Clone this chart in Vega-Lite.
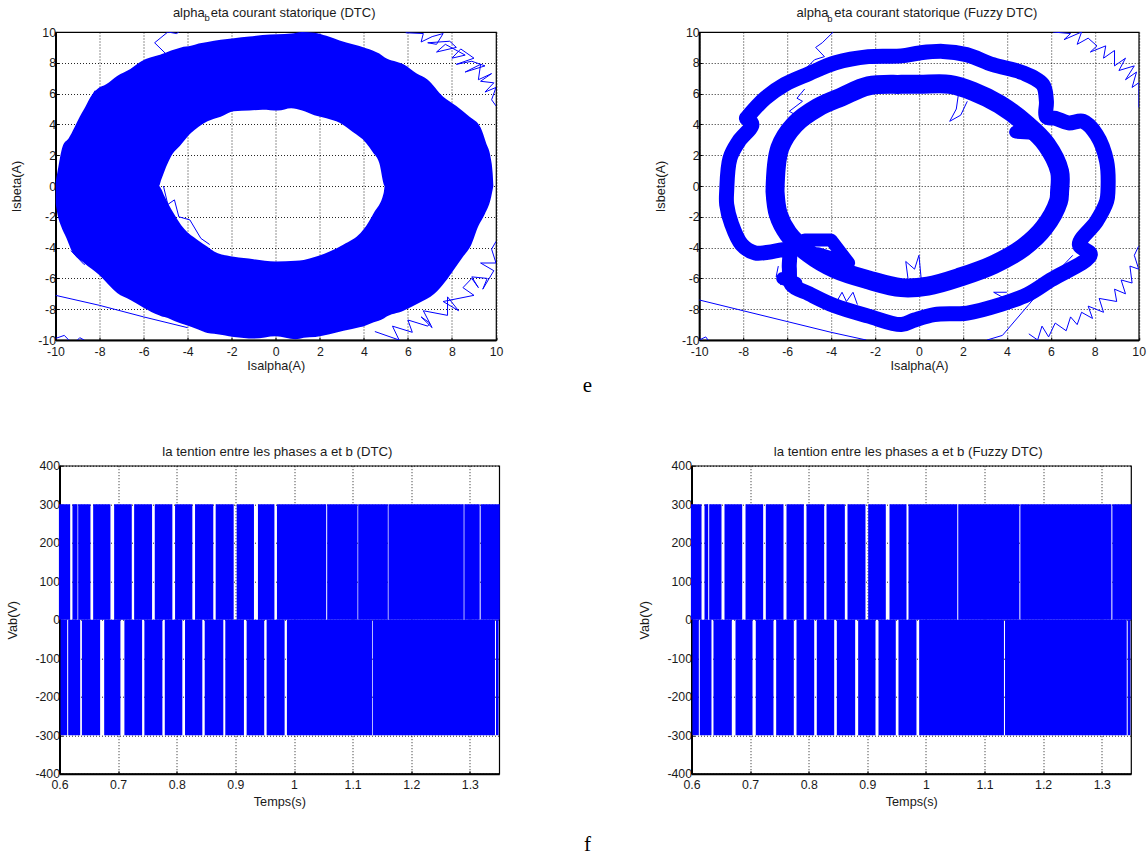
{
"$schema":"https://vega.github.io/schema/vega-lite/v6.json",
"background":"white",
"padding":{"left":5.5,"top":6,"right":4,"bottom":2},
"config":{"view":{"stroke":"black","strokeWidth":1.2},"font":"Liberation Sans",
"axis":{"grid":true,"gridColor":"black","gridDash":[1,2],"gridWidth":1,"gridOpacity":0.85,"domainColor":"black","domainWidth":2,"tickColor":"black","tickSize":-3,"tickWidth":1,"labelFont":"Liberation Sans","labelFontSize":12.3,"labelColor":"#1a1a1a","titleFont":"Liberation Sans","titleFontSize":12.7,"titleFontWeight":"normal","titleColor":"#1a1a1a","labelOverlap":false,"labelFlush":false,"labelPadding":3,"labelExpr":"datum.value+''"},
"title":{"font":"Liberation Sans","fontSize":13.2,"fontWeight":"normal","color":"#1a1a1a","offset":1}},
"datasets":{
"ringTop":[{"x":-10,"y":0.2,"y2":0},{"x":-9.9,"y":1.0,"y2":0},{"x":-9.67,"y":2.6,"y2":0},{"x":-9.4,"y":3.1,"y2":0},{"x":-9.14,"y":3.8,"y2":0},{"x":-8.9,"y":4.5,"y2":0},{"x":-8.7,"y":5.0,"y2":0},{"x":-8.4,"y":5.8,"y2":0},{"x":-8.1,"y":6.3,"y2":0},{"x":-7.7,"y":6.6,"y2":0},{"x":-7.2,"y":7.15,"y2":0},{"x":-6.6,"y":7.6,"y2":0},{"x":-6.1,"y":8.1,"y2":0},{"x":-5.3,"y":8.5,"y2":0},{"x":-5.2,"y":8.55,"y2":0.4},{"x":-4.75,"y":8.8,"y2":1.93},{"x":-4.3,"y":9.0,"y2":2.7},{"x":-3.85,"y":9.1,"y2":3.44},{"x":-3.5,"y":9.25,"y2":3.85},{"x":-3.1,"y":9.35,"y2":4.2},{"x":-2.5,"y":9.5,"y2":4.5},{"x":-1.9,"y":9.6,"y2":4.85},{"x":-1.2,"y":9.7,"y2":4.9},{"x":-0.6,"y":9.8,"y2":4.95},{"x":0.1,"y":9.85,"y2":4.9},{"x":0.7,"y":9.9,"y2":5.05},{"x":1.2,"y":10,"y2":4.9},{"x":1.75,"y":9.95,"y2":4.6},{"x":2.3,"y":9.75,"y2":4.4},{"x":2.9,"y":9.45,"y2":4.1},{"x":3.5,"y":9.2,"y2":3.5},{"x":4.1,"y":8.95,"y2":2.8},{"x":4.4,"y":8.8,"y2":2.2},{"x":4.7,"y":8.6,"y2":1.5},{"x":4.95,"y":8.35,"y2":0},{"x":5.8,"y":7.9,"y2":0},{"x":6.4,"y":7.3,"y2":0},{"x":6.9,"y":6.9,"y2":0},{"x":7.6,"y":5.8,"y2":0},{"x":8.2,"y":5.2,"y2":0},{"x":8.8,"y":4.5,"y2":0},{"x":9.3,"y":3.8,"y2":0},{"x":9.55,"y":2.8,"y2":0},{"x":9.75,"y":1.9,"y2":0},{"x":9.85,"y":0.8,"y2":0},{"x":9.88,"y":0,"y2":0}],
"ringBottom":[{"x":-10,"y":-1.1,"y2":0},{"x":-9.9,"y":-1.9,"y2":0},{"x":-9.75,"y":-2.6,"y2":0},{"x":-9.5,"y":-3.4,"y2":0},{"x":-9.3,"y":-4.1,"y2":0},{"x":-8.7,"y":-5.0,"y2":0},{"x":-8.0,"y":-5.8,"y2":0},{"x":-7.6,"y":-6.4,"y2":0},{"x":-7.2,"y":-6.95,"y2":0},{"x":-6.6,"y":-7.4,"y2":0},{"x":-6,"y":-7.9,"y2":0},{"x":-5.3,"y":-8.4,"y2":0},{"x":-5.2,"y":-8.45,"y2":-0.2},{"x":-5.05,"y":-8.5,"y2":-0.67},{"x":-4.45,"y":-8.85,"y2":-2.2},{"x":-4.15,"y":-9.0,"y2":-2.8},{"x":-3.55,"y":-9.3,"y2":-3.5},{"x":-3.1,"y":-9.55,"y2":-3.95},{"x":-2.8,"y":-9.6,"y2":-4.25},{"x":-1.9,"y":-9.8,"y2":-4.6},{"x":-1.0,"y":-9.9,"y2":-4.75},{"x":0,"y":-9.75,"y2":-4.9},{"x":0.9,"y":-9.95,"y2":-4.85},{"x":1.27,"y":-9.85,"y2":-4.8},{"x":1.8,"y":-9.8,"y2":-4.6},{"x":3.08,"y":-9.4,"y2":-3.8},{"x":3.85,"y":-9.15,"y2":-3.05},{"x":4.0,"y":-9.1,"y2":-2.8},{"x":4.45,"y":-8.85,"y2":-1.75},{"x":4.9,"y":-8.6,"y2":-0.45},{"x":4.95,"y":-8.55,"y2":0},{"x":5.8,"y":-8.1,"y2":0},{"x":6.5,"y":-7.6,"y2":0},{"x":7.2,"y":-7.0,"y2":0},{"x":7.7,"y":-6.2,"y2":0},{"x":8.1,"y":-5.4,"y2":0},{"x":8.5,"y":-4.6,"y2":0},{"x":8.85,"y":-3.9,"y2":0},{"x":9.2,"y":-2.6,"y2":0},{"x":9.5,"y":-1.8,"y2":0},{"x":9.75,"y":-0.89,"y2":0},{"x":9.88,"y":0,"y2":0}],
"strays1":[{"s":"a","x":5.9,"y":9.95},{"s":"a","x":6.7,"y":9.9},{"s":"a","x":6.6,"y":9.35},{"s":"a","x":7.1,"y":9.7},{"s":"a","x":7.6,"y":9.9},{"s":"a","x":7.3,"y":9.2},{"s":"a","x":6.9,"y":9.3},{"s":"a","x":7.9,"y":9.4},{"s":"a","x":8.2,"y":9},{"s":"a","x":7.3,"y":8.7},{"s":"a","x":7.7,"y":9.2},{"s":"a","x":8.6,"y":8.5},{"s":"a","x":8,"y":8.3},{"s":"a","x":8.4,"y":8.9},{"s":"a","x":9,"y":8.3},{"s":"a","x":8.2,"y":7.9},{"s":"a","x":8.9,"y":8.1},{"s":"a","x":9.5,"y":7.8},{"s":"a","x":8.6,"y":7.4},{"s":"a","x":9.3,"y":7.9},{"s":"a","x":9.2,"y":6.9},{"s":"a","x":9.8,"y":7.3},{"s":"a","x":9.3,"y":6.8},{"s":"a","x":9.9,"y":6.7},{"s":"a","x":9.5,"y":6.1},{"s":"a","x":10,"y":6.4},{"s":"a","x":9.8,"y":5.6},{"s":"a","x":10,"y":5.2},
{"s":"b","x":4.5,"y":-9.45},{"s":"b","x":5.6,"y":-10},{"s":"b","x":5.3,"y":-9.1},{"s":"b","x":6.2,"y":-9.5},{"s":"b","x":6,"y":-8.7},{"s":"b","x":6.9,"y":-9.1},{"s":"b","x":7,"y":-8.9},{"s":"b","x":6.6,"y":-8.5},{"s":"b","x":7.1,"y":-9.2},{"s":"b","x":6.7,"y":-8.1},{"s":"b","x":7.8,"y":-8.4},{"s":"b","x":7.8,"y":-7.2},{"s":"b","x":8.3,"y":-8.1},{"s":"b","x":7.6,"y":-7.5},{"s":"b","x":9,"y":-7.1},{"s":"b","x":8.5,"y":-6.6},{"s":"b","x":8.9,"y":-6.0},{"s":"b","x":9.2,"y":-6.6},{"s":"b","x":8.9,"y":-5.9},{"s":"b","x":9.6,"y":-6},{"s":"b","x":9.4,"y":-6.7},{"s":"b","x":9.9,"y":-5.5},{"s":"b","x":9.3,"y":-5},{"s":"b","x":10,"y":-5},{"s":"b","x":9.8,"y":-4.1},{"s":"b","x":10,"y":-3.6},
{"s":"c","x":-10,"y":-7.1},{"s":"c","x":-8,"y":-7.75},{"s":"c","x":-6,"y":-8.5},{"s":"c","x":-4,"y":-9.2},
{"s":"d","x":-5,"y":8.6},{"s":"d","x":-5.5,"y":9.3},{"s":"d","x":-4.9,"y":10},{"s":"d","x":-4.5,"y":9.9},{"s":"d","x":-4.4,"y":10},
{"s":"e","x":-10,"y":-9.9},{"s":"e","x":-9.6,"y":-9.7},{"s":"e","x":-9.4,"y":-10},
{"s":"f","x":-9,"y":-10},{"s":"f","x":-8.9,"y":-9.85},{"s":"f","x":-8.7,"y":-10},
{"s":"g","x":-8.7,"y":3.6},{"s":"g","x":-8.8,"y":4.2},{"s":"g","x":-8.3,"y":4.1},{"s":"g","x":-8.5,"y":5.0},{"s":"g","x":-8.1,"y":5.6},{"s":"g","x":-8.5,"y":5.4},{"s":"g","x":-8.2,"y":6.2},
{"s":"h","x":-5.1,"y":0},{"s":"h","x":-4.9,"y":-1.2},{"s":"h","x":-4.6,"y":-0.9},{"s":"h","x":-4.4,"y":-2.0},{"s":"h","x":-3.9,"y":-2.2},{"s":"h","x":-3.4,"y":-3.4},{"s":"h","x":-3,"y":-3.8},
{"s":"i","x":-9.3,"y":-4.2},{"s":"i","x":-8.7,"y":-5.1},{"s":"i","x":-8.4,"y":-4.7},
{"s":"j","x":9.5,"y":2.8},{"s":"j","x":8.6,"y":4.3},{"s":"j","x":8.1,"y":4.9},{"s":"j","x":7.9,"y":5.2},{"s":"j","x":7.0,"y":6.3},
{"s":"k","x":8.3,"y":-3.9},{"s":"k","x":7.9,"y":-5.1},{"s":"k","x":7.5,"y":-5.6}],
"outerLoop":[{"x":-7.85,"y":4.4},{"x":-7,"y":5.7},{"x":-6.1,"y":6.6},{"x":-5,"y":7.3},{"x":-3.8,"y":8},{"x":-2.3,"y":8.4},{"x":-0.8,"y":8.45},{"x":0.03,"y":8.64},{"x":1.09,"y":8.74},{"x":2.16,"y":8.53},{"x":3.37,"y":7.88},{"x":4.74,"y":7.34},{"x":5.64,"y":6.58},{"x":5.8,"y":5.5},{"x":5.8,"y":4.5},{"x":6.2,"y":4.4},{"x":6.8,"y":4.1},{"x":7.47,"y":4.2},{"x":8.08,"y":3.33},{"x":8.54,"y":1.6},{"x":8.6,"y":-0.35},{"x":8.54,"y":-1},{"x":8.08,"y":-2.3},{"x":7.3,"y":-3.8},{"x":7.8,"y":-4.46},{"x":6,"y":-6.1},{"x":4.94,"y":-7.05},{"x":3.7,"y":-7.7},{"x":2.2,"y":-8.25},{"x":0.7,"y":-8.35},{"x":-0.2,"y":-8.7},{"x":-0.8,"y":-9},{"x":-2.3,"y":-8.45},{"x":-3.8,"y":-7.8},{"x":-5,"y":-7},{"x":-5.8,"y":-6.4},{"x":-5.9,"y":-5.3},{"x":-5.95,"y":-4.2},{"x":-6.85,"y":-4.3},{"x":-7.45,"y":-4.35},{"x":-8.07,"y":-3.8},{"x":-8.53,"y":-2.45},{"x":-8.75,"y":-1.2},{"x":-8.75,"y":-0.35},{"x":-8.6,"y":1.8},{"x":-8.2,"y":2.9},{"x":-7.6,"y":4},{"x":-7.85,"y":4.4}],
"innerLoop":[{"x":-6.55,"y":-0.35},{"x":-6.33,"y":2.47},{"x":-5.65,"y":4},{"x":-4.6,"y":5.1},{"x":-3.5,"y":5.8},{"x":-2.3,"y":6.5},{"x":-0.8,"y":6.6},{"x":0.03,"y":6.6},{"x":1.4,"y":6.6},{"x":2.46,"y":6.15},{"x":3.67,"y":5.3},{"x":4.9,"y":4},{"x":5.8,"y":2.7},{"x":6.4,"y":0.95},{"x":6.4,"y":-0.35},{"x":6.35,"y":-1},{"x":5.7,"y":-2.7},{"x":4.75,"y":-4},{"x":3.4,"y":-5.1},{"x":1.9,"y":-5.9},{"x":0.4,"y":-6.5},{"x":-0.8,"y":-6.6},{"x":-2.3,"y":-6.1},{"x":-3.8,"y":-5.4},{"x":-5,"y":-4.4},{"x":-5.95,"y":-3.1},{"x":-6.4,"y":-1.85},{"x":-6.55,"y":-0.35}],
"blobs2":[{"s":"a","x":-5.2,"y":-3.5},{"s":"a","x":-4,"y":-3.5},{"s":"a","x":-3.2,"y":-5},{"s":"a","x":-4.6,"y":-4.4},{"s":"b","x":4.4,"y":3.5},{"s":"b","x":5.4,"y":3.4},{"s":"c","x":-6.2,"y":-6.0},{"s":"c","x":-5.6,"y":-6.3}],
"strays2":[{"s":"a","x":-10,"y":-7.4},{"s":"a","x":-8,"y":-8.1},{"s":"a","x":-6,"y":-8.8},{"s":"a","x":-4,"y":-9.5},{"s":"a","x":-2.4,"y":-10},
{"s":"b","x":3.1,"y":-10},{"s":"b","x":3.8,"y":-9.7},{"s":"b","x":5,"y":-7.7},{"s":"b","x":6,"y":-6},{"s":"b","x":7,"y":-4.5},
{"s":"c","x":-5.2,"y":7.55},{"s":"c","x":-4.75,"y":8.2},{"s":"c","x":-4.3,"y":8.4},{"s":"c","x":-4.7,"y":9},{"s":"c","x":-4.4,"y":9.3},{"s":"c","x":-3.9,"y":10},
{"s":"d","x":-6,"y":4.1},{"s":"d","x":-5.6,"y":4.6},{"s":"d","x":-5.9,"y":4.85},{"s":"d","x":-5.3,"y":5.5},{"s":"d","x":-5.55,"y":5.7},{"s":"d","x":-5.2,"y":6.3},
{"s":"e","x":6.1,"y":10},{"s":"e","x":6.9,"y":9.9},{"s":"e","x":6.6,"y":9.5},{"s":"e","x":7.4,"y":10},{"s":"e","x":7.2,"y":9.2},{"s":"e","x":7.7,"y":9.6},{"s":"e","x":8.1,"y":9.1},{"s":"e","x":7.8,"y":8.7},{"s":"e","x":8.5,"y":9.1},{"s":"e","x":8.4,"y":8.3},{"s":"e","x":8.9,"y":8.8},{"s":"e","x":8.9,"y":7.8},{"s":"e","x":9.4,"y":8.3},{"s":"e","x":9.1,"y":7.5},{"s":"e","x":9.8,"y":7.8},{"s":"e","x":9.4,"y":6.9},{"s":"e","x":9.9,"y":7.4},{"s":"e","x":9.7,"y":6.4},{"s":"e","x":10,"y":6.7},{"s":"e","x":10,"y":5.1},
{"s":"f","x":5,"y":-9.6},{"s":"f","x":5.4,"y":-10},{"s":"f","x":5.6,"y":-9.1},{"s":"f","x":5.9,"y":-9.8},{"s":"f","x":6.2,"y":-8.9},{"s":"f","x":6.7,"y":-9.4},{"s":"f","x":6.9,"y":-8.5},{"s":"f","x":7.2,"y":-9},{"s":"f","x":7.4,"y":-8.2},{"s":"f","x":7.9,"y":-8.6},{"s":"f","x":7.7,"y":-7.8},{"s":"f","x":8.4,"y":-8.2},{"s":"f","x":8.2,"y":-7.3},{"s":"f","x":9,"y":-7.5},{"s":"f","x":8.9,"y":-6.7},{"s":"f","x":9.4,"y":-7},{"s":"f","x":9.2,"y":-6.1},{"s":"f","x":9.7,"y":-6.3},{"s":"f","x":9.6,"y":-5.2},{"s":"f","x":10,"y":-5.4},{"s":"f","x":9.8,"y":-4.5},{"s":"f","x":10,"y":-3.9},
{"s":"g","x":1.8,"y":6},{"s":"g","x":1.7,"y":5},{"s":"g","x":1.4,"y":4.2},{"s":"g","x":1.9,"y":4.6},{"s":"g","x":2.2,"y":5.5},
{"s":"h","x":-0.5,"y":-6},{"s":"h","x":-0.6,"y":-4.9},{"s":"h","x":-0.2,"y":-5.4},{"s":"h","x":0,"y":-4.5},{"s":"h","x":0.1,"y":-6},
{"s":"i","x":-10,"y":-10},{"s":"i","x":-9.7,"y":-9.8},{"s":"i","x":-9.6,"y":-10},
{"s":"j","x":-6.4,"y":-5.2},{"s":"j","x":-6.5,"y":-5.9},{"s":"j","x":-6.1,"y":-5.6},{"s":"j","x":-6.3,"y":-6.4},{"s":"j","x":-5.8,"y":-6.1},
{"s":"k","x":-3.7,"y":-7.4},{"s":"k","x":-3.5,"y":-6.9},{"s":"k","x":-3.3,"y":-7.5},{"s":"k","x":-3,"y":-6.9},{"s":"k","x":-2.8,"y":-7.7},
{"s":"l","x":4,"y":-6.9},{"s":"l","x":3.4,"y":-6.9},{"s":"l","x":3.9,"y":-7.3}],
"pulses3":[{"x":0.599,"x2":0.6182,"y":0,"y2":300},{"x":0.6221,"x2":0.6307,"y":0,"y2":300},{"x":0.6319,"x2":0.6528,"y":0,"y2":300},{"x":0.6574,"x2":0.6869,"y":0,"y2":300},{"x":0.6932,"x2":0.7233,"y":0,"y2":300},{"x":0.7273,"x2":0.7579,"y":0,"y2":300},{"x":0.7625,"x2":0.7925,"y":0,"y2":300},{"x":0.7971,"x2":0.8266,"y":0,"y2":300},{"x":0.8312,"x2":0.8623,"y":0,"y2":300},{"x":0.8664,"x2":0.8971,"y":0,"y2":300},{"x":0.9022,"x2":0.9317,"y":0,"y2":300},{"x":0.9385,"x2":0.9666,"y":0,"y2":300},{"x":0.9709,"x2":1.0549,"y":0,"y2":300},{"x":1.0566,"x2":1.1083,"y":0,"y2":300},{"x":1.1095,"x2":1.16,"y":0,"y2":300},{"x":1.1612,"x2":1.2894,"y":0,"y2":300},{"x":1.2906,"x2":1.3167,"y":0,"y2":300},{"x":1.3184,"x2":1.351,"y":0,"y2":300},
{"x":0.6017,"x2":0.6131,"y":-300,"y2":0},{"x":0.6148,"x2":0.6353,"y":-300,"y2":0},{"x":0.6382,"x2":0.6693,"y":-300,"y2":0},{"x":0.6762,"x2":0.7039,"y":-300,"y2":0},{"x":0.7107,"x2":0.7409,"y":-300,"y2":0},{"x":0.7448,"x2":0.7755,"y":-300,"y2":0},{"x":0.7796,"x2":0.8095,"y":-300,"y2":0},{"x":0.8141,"x2":0.8436,"y":-300,"y2":0},{"x":0.8477,"x2":0.8794,"y":-300,"y2":0},{"x":0.8828,"x2":0.9146,"y":-300,"y2":0},{"x":0.9192,"x2":0.9492,"y":-300,"y2":0},{"x":0.9533,"x2":0.984,"y":-300,"y2":0},{"x":0.9879,"x2":1.1332,"y":-300,"y2":0},{"x":1.1344,"x2":1.3428,"y":-300,"y2":0},{"x":1.3445,"x2":1.349,"y":-300,"y2":0}],
"pulses4":[{"x":0.599,"x2":0.6171,"y":0,"y2":300},{"x":0.6222,"x2":0.6285,"y":0,"y2":300},{"x":0.6302,"x2":0.6512,"y":0,"y2":300},{"x":0.6563,"x2":0.6865,"y":0,"y2":300},{"x":0.6922,"x2":0.7223,"y":0,"y2":300},{"x":0.7268,"x2":0.757,"y":0,"y2":300},{"x":0.7621,"x2":0.7917,"y":0,"y2":300},{"x":0.7962,"x2":0.8264,"y":0,"y2":300},{"x":0.8304,"x2":0.8617,"y":0,"y2":300},{"x":0.8662,"x2":0.8969,"y":0,"y2":300},{"x":0.9015,"x2":0.9316,"y":0,"y2":300},{"x":0.9379,"x2":0.9669,"y":0,"y2":300},{"x":0.9703,"x2":1.0535,"y":0,"y2":300},{"x":1.0552,"x2":1.1595,"y":0,"y2":300},{"x":1.1612,"x2":1.3165,"y":0,"y2":300},{"x":1.3182,"x2":1.351,"y":0,"y2":300},
{"x":0.6015,"x2":0.6125,"y":-300,"y2":0},{"x":0.6142,"x2":0.6341,"y":-300,"y2":0},{"x":0.6375,"x2":0.6688,"y":-300,"y2":0},{"x":0.6751,"x2":0.7041,"y":-300,"y2":0},{"x":0.7097,"x2":0.7399,"y":-300,"y2":0},{"x":0.7445,"x2":0.7746,"y":-300,"y2":0},{"x":0.7792,"x2":0.8094,"y":-300,"y2":0},{"x":0.8138,"x2":0.8435,"y":-300,"y2":0},{"x":0.848,"x2":0.8793,"y":-300,"y2":0},{"x":0.8844,"x2":0.914,"y":-300,"y2":0},{"x":0.9191,"x2":0.9486,"y":-300,"y2":0},{"x":0.9532,"x2":0.9839,"y":-300,"y2":0},{"x":0.9885,"x2":1.1332,"y":-300,"y2":0},{"x":1.135,"x2":1.3427,"y":-300,"y2":0},{"x":1.3444,"x2":1.349,"y":-300,"y2":0}]
},
"vconcat":[
{"hconcat":[
{"width":440.5,"height":308,
"encoding":{"x":{"field":"x","type":"quantitative","scale":{"domain":[-10,10],"nice":false},"axis":{"values":[-10,-8,-6,-4,-2,0,2,4,6,8,10],"title":"Isalpha(A)","titlePadding":2,"labelPadding":8},"title":"Isalpha(A)"},"y":{"field":"y","type":"quantitative","scale":{"domain":[-10,10],"nice":false},"axis":{"values":[-10,-8,-6,-4,-2,0,2,4,6,8,10],"title":"Isbeta(A)","titlePadding":14},"title":"Isbeta(A)"}},
"layer":[
{"data":{"name":"ringTop"},"mark":{"type":"area","color":"#0000ff","clip":true,"interpolate":"monotone"},"encoding":{"y2":{"field":"y2"}}},
{"data":{"name":"ringBottom"},"mark":{"type":"area","color":"#0000ff","clip":true,"interpolate":"monotone"},"encoding":{"y2":{"field":"y2"}}},
{"data":{"name":"strays1"},"mark":{"type":"line","color":"#0000ff","strokeWidth":1,"clip":true},"encoding":{"detail":{"field":"s"},"order":{"value":null}}},
{"data":{"values":[{"x":-4.67,"y":10.99,"t":"alpha"},{"x":-2.95,"y":10.99,"t":"eta courant statorique (DTC)"}]},"mark":{"type":"text","align":"left","baseline":"alphabetic","fontSize":13,"color":"#1a1a1a"},"encoding":{"text":{"field":"t"}}},
{"data":{"values":[{"x":-3.24,"y":10.71,"t":"b"}]},"mark":{"type":"text","align":"left","baseline":"alphabetic","fontSize":9.5,"color":"#1a1a1a"},"encoding":{"text":{"field":"t"}}},
{"data":{"values":[{"x":14.15,"y":-13.38,"t":"e"}]},"mark":{"type":"text","align":"center","baseline":"alphabetic","font":"Liberation Serif","fontSize":21,"color":"black"},"encoding":{"text":{"field":"t"}}}
]},
{"width":439.5,"height":308,
"encoding":{"x":{"field":"x","type":"quantitative","scale":{"domain":[-10,10],"nice":false},"axis":{"values":[-10,-8,-6,-4,-2,0,2,4,6,8,10],"title":"Isalpha(A)","titlePadding":2,"labelPadding":8},"title":"Isalpha(A)"},"y":{"field":"y","type":"quantitative","scale":{"domain":[-10,10],"nice":false},"axis":{"values":[-10,-8,-6,-4,-2,0,2,4,6,8,10],"title":"Isbeta(A)","titlePadding":14},"title":"Isbeta(A)"}},
"layer":[
{"data":{"name":"outerLoop"},"mark":{"type":"line","color":"#0000ff","strokeWidth":15,"strokeCap":"round","strokeJoin":"round","clip":true,"interpolate":"catmull-rom"},"encoding":{"order":{"value":null}}},
{"data":{"name":"innerLoop"},"mark":{"type":"line","color":"#0000ff","strokeWidth":19,"strokeCap":"round","strokeJoin":"round","clip":true,"interpolate":"catmull-rom"},"encoding":{"order":{"value":null}}},
{"data":{"name":"blobs2"},"mark":{"type":"line","color":"#0000ff","strokeWidth":13,"strokeCap":"round","strokeJoin":"round","clip":true},"encoding":{"detail":{"field":"s"},"order":{"value":null}}},
{"data":{"name":"strays2"},"mark":{"type":"line","color":"#0000ff","strokeWidth":1,"clip":true},"encoding":{"detail":{"field":"s"},"order":{"value":null}}},
{"data":{"values":[{"x":-5.57,"y":10.97,"t":"alpha"},{"x":-3.85,"y":10.97,"t":"eta courant statorique (Fuzzy DTC)"}]},"mark":{"type":"text","align":"left","baseline":"alphabetic","fontSize":13,"color":"#1a1a1a"},"encoding":{"text":{"field":"t"}}},
{"data":{"values":[{"x":-4.17,"y":10.65,"t":"b"}]},"mark":{"type":"text","align":"left","baseline":"alphabetic","fontSize":9.5,"color":"#1a1a1a"},"encoding":{"text":{"field":"t"}}}
]}
],"spacing":202.7,"bounds":"flush"},
{"hconcat":[
{"width":3.8,"height":1,"view":{"stroke":null},"data":{"values":[{"t":""}]},"mark":{"type":"text"},"encoding":{"text":{"field":"t"}}},
{"hconcat":[
{"width":439.7,"height":308,"title":{"text":"la tention entre les phases a et b (DTC)","dx":-2},
"encoding":{"x":{"field":"x","type":"quantitative","scale":{"domain":[0.6,1.35],"nice":false},"axis":{"values":[0.6,0.7,0.8,0.9,1,1.1,1.2,1.3],"title":"Temps(s)","titlePadding":4,"labelPadding":8},"title":"Temps(s)"},"y":{"field":"y","type":"quantitative","scale":{"domain":[-400,400],"nice":false},"axis":{"values":[-400,-300,-200,-100,0,100,200,300,400],"title":"Vab(V)","titlePadding":15},"title":"Vab(V)"}},
"layer":[
{"data":{"name":"pulses3"},"mark":{"type":"rect","color":"#0000ff"},"encoding":{"x2":{"field":"x2"},"y2":{"field":"y2"}}},
{"data":{"values":[{"x":1.5007,"y":-599.5,"t":"f"}]},"mark":{"type":"text","align":"center","baseline":"alphabetic","font":"Liberation Serif","fontSize":21,"color":"black"},"encoding":{"text":{"field":"t"}}}
]},
{"width":439.5,"height":308,"title":{"text":"la tention entre les phases a et b (Fuzzy DTC)","dx":-3},
"encoding":{"x":{"field":"x","type":"quantitative","scale":{"domain":[0.6,1.35],"nice":false},"axis":{"values":[0.6,0.7,0.8,0.9,1,1.1,1.2,1.3],"title":"Temps(s)","titlePadding":4,"labelPadding":8},"title":"Temps(s)"},"y":{"field":"y","type":"quantitative","scale":{"domain":[-400,400],"nice":false},"axis":{"values":[-400,-300,-200,-100,0,100,200,300,400],"title":"Vab(V)","titlePadding":15},"title":"Vab(V)"}},
"layer":[
{"data":{"name":"pulses4"},"mark":{"type":"rect","color":"#0000ff"},"encoding":{"x2":{"field":"x2"},"y2":{"field":"y2"}}}
]}
],"spacing":192,"bounds":"flush"}
],"spacing":0,"bounds":"flush"}
],
"spacing":433.7,"bounds":"flush"
}
